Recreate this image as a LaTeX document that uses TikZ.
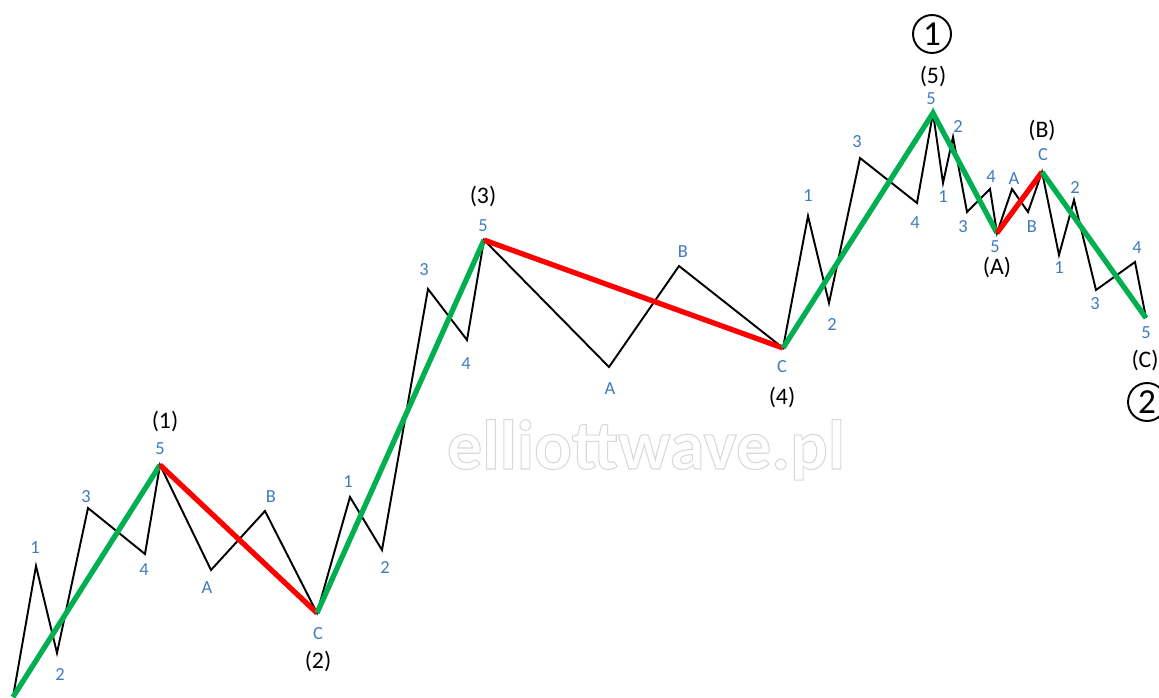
\documentclass[tikz,border=0pt]{standalone}
\usepackage{fontspec}
\setmainfont{Carlito}
\usepackage{tikz}
\usetikzlibrary{positioning}
\definecolor{bleu}{HTML}{3F7BBF}
\definecolor{vert}{HTML}{00B050}
\definecolor{rouge}{HTML}{FF0000}
\definecolor{gris}{HTML}{D8D8D8}

\begin{document}
\begin{tikzpicture}[x=0.02cm,y=-0.02cm,
  sub/.style={font=\fontsize{10.5}{12}\selectfont,text=bleu,inner sep=0pt},
  deg/.style={font=\fontsize{13.5}{15}\selectfont,inner sep=0pt},
  cyc/.style={draw,circle,line width=1.1pt,minimum size=0.76cm,inner sep=0pt,font=\fontsize{20}{22}\selectfont},
  fine/.style={line width=1.1pt,line join=miter},
  impuls/.style={line width=3pt,vert},
  korekta/.style={line width=3pt,rouge}]
  \useasboundingbox (0,0) rectangle (1159,697);
  % znak wodny
  \node[font=\fontsize{40}{44}\selectfont\bfseries,text=gris,anchor=base] (znak) at (646,469)
    {\special{pdf:literal direct 1 Tr 0.6 w}elliottwave.pl\special{pdf:literal direct 0 Tr}};
  % punkty fali
  \coordinate (s0) at (13,697);
  \coordinate (i1) at (36,566);
  \coordinate (i2) at (57,653);
  \coordinate (i3) at (88,508);
  \coordinate (i4) at (145,554);
  \coordinate (i5) at (160,465);
  \coordinate (iia) at (211,570);
  \coordinate (iib) at (265,511);
  \coordinate (iic) at (317,613);
  \coordinate (iii1) at (350,497);
  \coordinate (iii2) at (382,550);
  \coordinate (iii3) at (428,289);
  \coordinate (iii4) at (467,340);
  \coordinate (iii5) at (484,240);
  \coordinate (iva) at (609,367);
  \coordinate (ivb) at (679,266);
  \coordinate (ivc) at (783,348);
  \coordinate (v1) at (808,216);
  \coordinate (v2) at (829,303);
  \coordinate (v3) at (860,158);
  \coordinate (v4) at (917,203);
  \coordinate (v5) at (933,113);
  \coordinate (a1) at (943,183);
  \coordinate (a2) at (953,137);
  \coordinate (a3) at (967,212);
  \coordinate (a4) at (990,189);
  \coordinate (a5) at (997,233);
  \coordinate (ba) at (1012,189);
  \coordinate (bb) at (1028,212);
  \coordinate (bc) at (1042,172);
  \coordinate (c1) at (1059,255);
  \coordinate (c2) at (1074,200);
  \coordinate (c3) at (1096,290);
  \coordinate (c4) at (1135,262);
  \coordinate (c5) at (1146,318);
  % fale czarne
  \draw[fine] (s0) -- (i1) -- (i2) -- (i3) -- (i4) -- (i5) -- (iia) -- (iib) -- (iic)
    -- (iii1) -- (iii2) -- (iii3) -- (iii4) -- (iii5) -- (iva) -- (ivb) -- (ivc)
    -- (v1) -- (v2) -- (v3) -- (v4) -- (v5) -- (a1) -- (a2) -- (a3) -- (a4) -- (a5)
    -- (ba) -- (bb) -- (bc) -- (c1) -- (c2) -- (c3) -- (c4) -- (c5);
  % fale wyzszego stopnia
  \draw[impuls] (s0) -- (i5);
  \draw[korekta] (i5) -- (iic);
  \draw[impuls] (iic) -- (iii5);
  \draw[korekta] (iii5) -- (ivc);
  \draw[impuls] (ivc) -- (v5) -- (a5);
  \draw[korekta] (a5) -- (bc);
  \draw[impuls] (bc) -- (c5);
  % etykiety fali (1) i (2)
  \node[sub] (l1) at (35,548) {1};
  \node[sub] (l2) at (60,675) {2};
  \node[sub] (l3) at (86,497) {3};
  \node[sub] (l4) at (144,570) {4};
  \node[sub] (l5) at (160,449) {5};
  \node[deg] (d1) at (165,421) {(1)};
  \node[sub] (la) at (207,588) {A};
  \node[sub] (lb) at (271,497) {B};
  \node[sub] (lc) at (318,634) {C};
  \node[deg] (d2) at (318,661) {(2)};
  % etykiety fali (3) i (4)
  \node[sub] (m1) at (348,482) {1};
  \node[sub] (m2) at (385,568) {2};
  \node[sub] (m3) at (424,270) {3};
  \node[sub] (m4) at (466,364) {4};
  \node[sub] (m5) at (483,226) {5};
  \node[deg] (d3) at (483,196) {(3)};
  \node[sub] (ma) at (610,389) {A};
  \node[sub] (mb) at (683,252) {B};
  \node[sub] (mc) at (782,367) {C};
  \node[deg] (d4) at (782,397) {(4)};
  % etykiety fali (5)
  \node[sub] (n1) at (808,196) {1};
  \node[sub] (n2) at (832,325) {2};
  \node[sub] (n3) at (857,142) {3};
  \node[sub] (n4) at (915,223) {4};
  \node[sub] (n5) at (931,99) {5};
  \node[deg] (d5) at (933,76) {(5)};
  \node[cyc] (k1) at (932,34) {1};
  % etykiety korekty (A) (B) (C)
  \node[sub] (o1) at (943,197) {1};
  \node[sub] (o2) at (958,127) {2};
  \node[sub] (o3) at (963,227) {3};
  \node[sub] (o4) at (991,177) {4};
  \node[sub] (o5) at (995,247) {5};
  \node[deg] (da) at (997,267) {(A)};
  \node[sub] (pa) at (1014,179) {A};
  \node[sub] (pb) at (1032,227) {B};
  \node[sub] (pc) at (1043,155) {C};
  \node[deg] (db) at (1042,130) {(B)};
  \node[sub] (q1) at (1059,268) {1};
  \node[sub] (q2) at (1075,188) {2};
  \node[sub] (q3) at (1095,304) {3};
  \node[sub] (q4) at (1137,248) {4};
  \node[sub] (q5) at (1146,333) {5};
  \node[deg] (dc) at (1145,360) {(C)};
  \node[cyc] (k2) at (1147,402) {2};
\end{tikzpicture}
\end{document}
